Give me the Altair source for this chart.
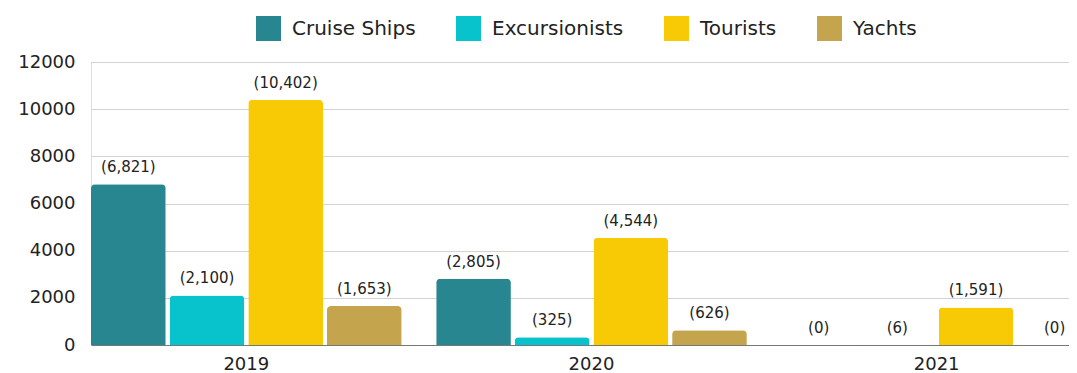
import altair as alt
import pandas as pd

years = ["2019", "2020", "2021"]
series = ["Cruise Ships", "Excursionists", "Tourists", "Yachts"]
cruise_ships = [6821, 2805, 0]
excursionists = [2100, 325, 6]
tourists = [10402, 4544, 1591]
yachts = [1653, 626, 0]
colors = ["#288691", "#08c3cc", "#f8ca06", "#c4a54e"]
y_ticks = [0, 2000, 4000, 6000, 8000, 10000, 12000]

rows = []
for name, vals in zip(series, [cruise_ships, excursionists, tourists, yachts]):
    for yr, v in zip(years, vals):
        rows.append({"year": yr, "series": name, "value": v, "label": "({:,})".format(v)})
df = pd.DataFrame(rows)

FONT = "DejaVu Sans"

base = alt.Chart(df).encode(
    x=alt.X(
        "year:N",
        sort=years,
        scale=alt.Scale(range=[0, 1001], paddingInner=0.1, paddingOuter=0),
        axis=alt.Axis(
            title=None, labelAngle=0, ticks=False, grid=False,
            domainColor="#777777", domainWidth=1,
            labelFont=FONT, labelFontSize=18, labelColor="#222222", labelPadding=10,
        ),
    ),
    xOffset=alt.XOffset("series:N", sort=series, scale=alt.Scale(paddingInner=0.05)),
    y=alt.Y(
        "value:Q",
        scale=alt.Scale(domain=[0, 12000], nice=False),
        axis=alt.Axis(
            title=None, values=y_ticks, format="d",
            domain=True, domainColor="transparent", domainOpacity=0, domainWidth=0,
            ticks=False, gridColor="#d3d3d3", gridWidth=1,
            labelFont=FONT, labelFontSize=18, labelColor="#222222", labelPadding=16,
        ),
    ),
)

bars = base.mark_bar(cornerRadiusTopLeft=4, cornerRadiusTopRight=4).encode(
    color=alt.Color(
        "series:N",
        sort=series,
        scale=alt.Scale(domain=series, range=colors),
        legend=alt.Legend(
            title=None, orient="none", direction="horizontal",
            legendX=165, legendY=-46,
            symbolType="square", symbolSize=625, symbolStrokeWidth=0, symbolOpacity=1,
            labelFont=FONT, labelFontSize=20, labelColor="#222222",
            labelOffset=11, columnPadding=40, padding=0,
        ),
    )
)

labels = base.mark_text(
    baseline="bottom", dy=-9, font=FONT, fontSize=15, color="#222222"
).encode(text="label:N")

chart = (
    alt.layer(bars, labels)
    .properties(
        width=978,
        height=283,
        autosize=alt.AutoSizeParams(type="none"),
        padding={"left": 83, "top": 54, "right": 0, "bottom": 28},
    )
    .configure_view(strokeWidth=0, stroke="transparent")
    .configure(background="white")
)

chart.save("out.html", embed_options={"renderer": "svg", "actions": False})
